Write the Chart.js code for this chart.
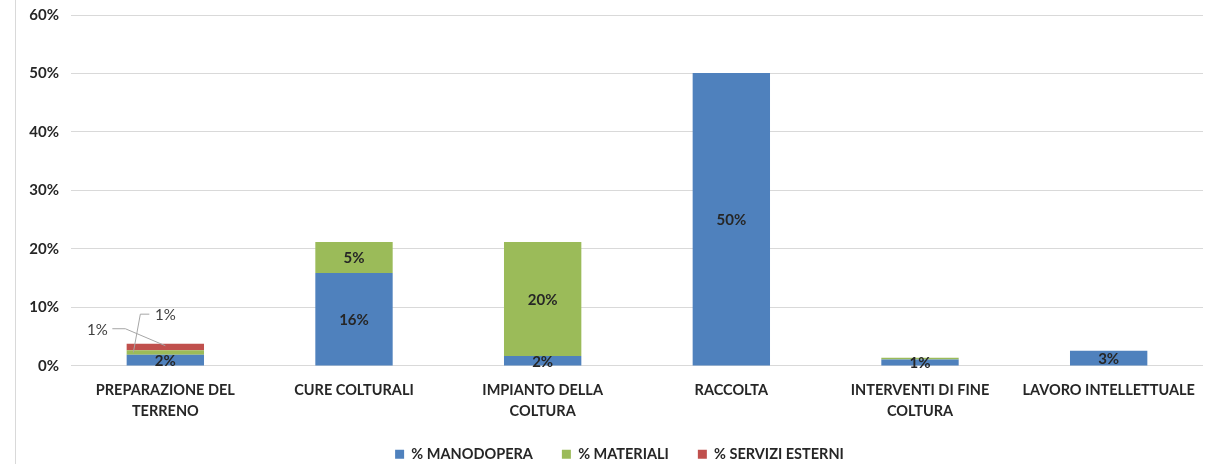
<!DOCTYPE html>
<html>
<head>
<meta charset="utf-8">
<script src="https://cdn.jsdelivr.net/npm/chart.js@4"></script>
<style>
  html, body { margin: 0; padding: 0; background: #fff; }
  #wrap { width: 1209px; height: 465px; position: relative; overflow: hidden; }
  #inner { width: 1209px; height: 483px; margin-top: -18px; position: relative; }
</style>
</head>
<body>
<div id="wrap"><div id="inner"><canvas id="chart"></canvas></div></div>
<script>
const categories = [
  ['PREPARAZIONE DEL', 'TERRENO'],
  'CURE COLTURALI',
  ['IMPIANTO DELLA', 'COLTURA'],
  'RACCOLTA',
  ['INTERVENTI DI FINE', 'COLTURA'],
  'LAVORO INTELLETTUALE'
];
const manodopera = [1.9, 15.9, 1.7, 50.1, 1.1, 2.6];
const materiali = [0.8, 5.3, 19.5, 0, 0.3, 0];
const serviziEsterni = [1.1, 0, 0, 0, 0, 0];
const yTicks = [0, 10, 20, 30, 40, 50, 60];

const FONT = 'Lato, "Open Sans", sans-serif';
const TEXT = '#262626';

// left frame edge + data labels
const labelsPlugin = {
  id: 'barLabels',
  afterLayout(chart) {
    // legend sits a bit right of centre in the original
    chart.legend.left += 17;
    chart.legend.right += 17;
  },
  beforeDraw(chart) {
    const ctx = chart.ctx;
    ctx.save();
    ctx.strokeStyle = '#d9d9d9';
    ctx.lineWidth = 1;
    ctx.beginPath();
    ctx.moveTo(15.5, 0);
    ctx.lineTo(15.5, chart.height);
    ctx.stroke();
    ctx.restore();
  },
  afterDatasetsDraw(chart) {
    const ctx = chart.ctx;
    ctx.save();
    ctx.textAlign = 'center';
    ctx.textBaseline = 'middle';
    chart.data.datasets.forEach((ds, di) => {
      const meta = chart.getDatasetMeta(di);
      meta.data.forEach((bar, i) => {
        const v = ds.data[i];
        const txt = Math.round(v) + '%';
        if (Math.round(v) === 0) return;
        const midY = (bar.y + bar.base) / 2;
        // first category: small stacked segments get callouts
        if (i === 0 && di > 0) {
          ctx.strokeStyle = '#a6a6a6';
          ctx.lineWidth = 1;
          ctx.fillStyle = '#404040';
          ctx.font = '15px ' + FONT;
          ctx.beginPath();
          if (di === 1) {
            const lx = bar.x, ly = bar.y - 36;
            ctx.moveTo(lx - 16, ly);
            ctx.lineTo(lx - 25, ly);
            ctx.lineTo(bar.x - 32, midY);
            ctx.stroke();
            ctx.fillText(txt, lx, ly + 1);
          } else {
            const lx = bar.x - 68, ly = bar.y - 14;
            ctx.moveTo(lx + 15, ly - 1);
            ctx.lineTo(lx + 28, ly - 1);
            ctx.lineTo(bar.x, bar.y + 2);
            ctx.stroke();
            ctx.fillText(txt, lx, ly);
          }
          return;
        }
        ctx.fillStyle = TEXT;
        ctx.font = 'bold 15px ' + FONT;
        ctx.fillText(txt, bar.x, midY + 1);
      });
    });
    ctx.restore();
  }
};

const chart = new Chart(document.getElementById('chart'), {
  type: 'bar',
  data: {
    labels: categories,
    datasets: [
      { label: '% MANODOPERA', data: manodopera, backgroundColor: '#4F81BD' },
      { label: '% MATERIALI', data: materiali, backgroundColor: '#9BBB59' },
      { label: '% SERVIZI ESTERNI', data: serviziEsterni, backgroundColor: '#C0504D' }
    ]
  },
  options: {
    responsive: true,
    maintainAspectRatio: false,
    animation: false,
    layout: { padding: { left: 2, right: 6, top: 0, bottom: 3 } },
    datasets: { bar: { barPercentage: 0.41, categoryPercentage: 1.0 } },
    scales: {
      x: {
        stacked: true,
        grid: { display: false },
        border: { display: false },
        afterFit(scale) { scale.height -= 10; },
        ticks: { color: TEXT, font: { family: FONT, size: 14.5, weight: 'bold', lineHeight: 1.45 }, maxRotation: 0, autoSkip: false, padding: 6 }
      },
      y: {
        stacked: true,
        min: 0, max: 60,
        afterBuildTicks(axis) { axis.ticks = yTicks.map(v => ({ value: v })); },
        afterFit(scale) { scale.width = 69; },
        grid: { color: '#d9d9d9', drawTicks: false },
        border: { display: false },
        ticks: { color: TEXT, font: { family: FONT, size: 15, weight: 'bold' }, padding: 12, callback: v => v + '%' }
      }
    },
    plugins: {
      legend: {
        position: 'bottom',
        maxHeight: 43,
        labels: { boxWidth: 9, boxHeight: 9, padding: 29, color: TEXT, font: { family: FONT, size: 14.5, weight: 'bold' } }
      },
      tooltip: { enabled: false }
    }
  },
  plugins: [labelsPlugin]
});

// fit the plot area to the original frame: 60% line near the top, 0% line at 366px
const inner = document.getElementById('inner');
const yTop = chart.scales.y.getPixelForValue(60);
const yBase = chart.scales.y.getPixelForValue(0);
const below = chart.height - yBase;
inner.style.height = (yTop + 351 + below) + 'px';
inner.style.marginTop = (15 - yTop) + 'px';
chart.resize();
</script>
</body>
</html>
